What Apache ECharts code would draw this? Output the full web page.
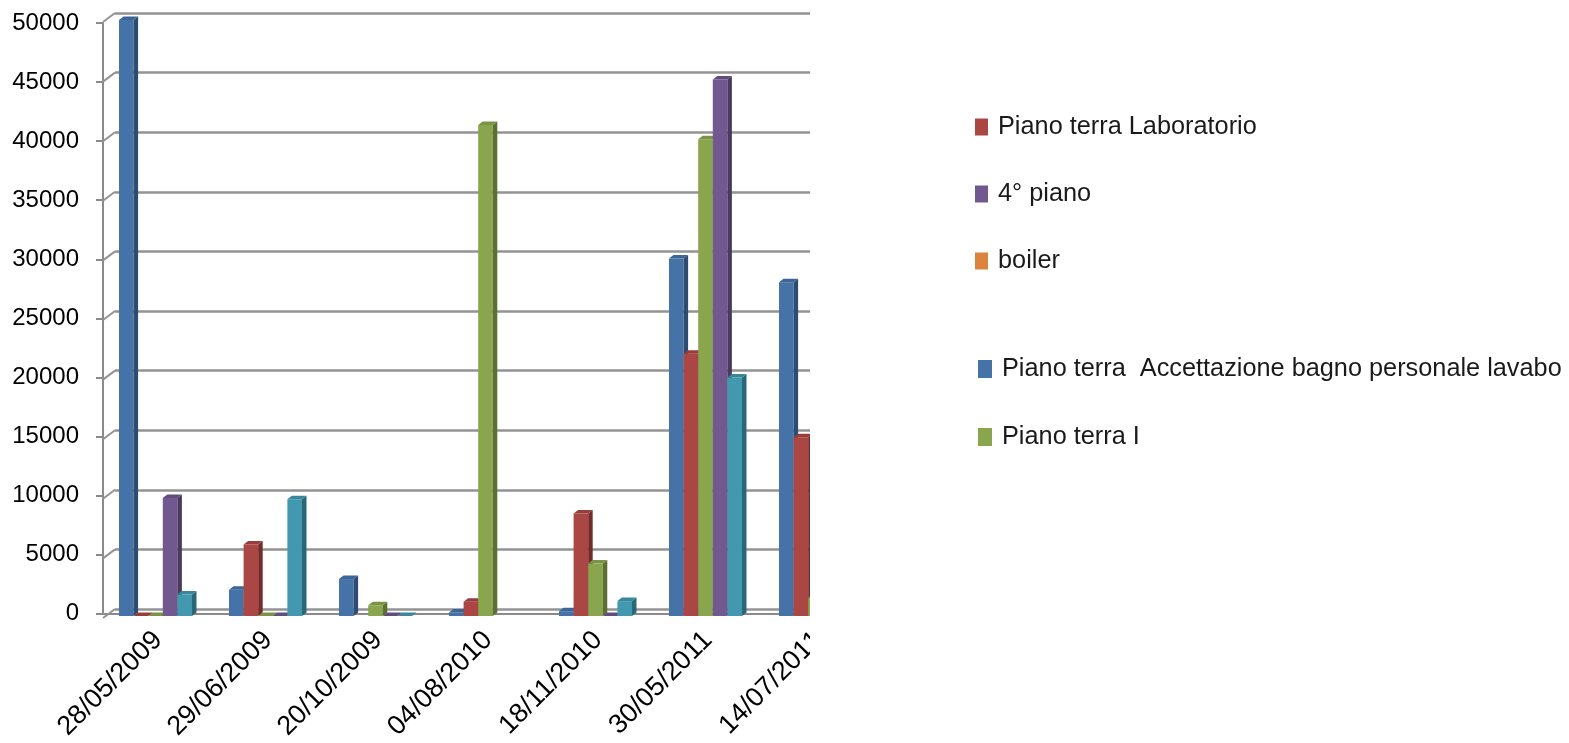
<!DOCTYPE html>
<html>
<head>
<meta charset="utf-8">
<script src="https://cdn.jsdelivr.net/npm/echarts@6/dist/echarts.min.js"></script>
<style>
  html, body { margin: 0; padding: 0; background: #ffffff; }
  #chart { width: 1569px; height: 743px; }
</style>
</head>
<body>
<div id="chart"></div>
<script>
// Sampling dates (category axis)
const categories = ['28/05/2009', '29/06/2009', '20/10/2009', '04/08/2010', '18/11/2010', '30/05/2011', '14/07/2011'];

// Readings per sampling point (null = no sample taken)
const accettazione = [50000, 2200, 3100, 300, 400, 30000, 28000];
const laboratorio  = [0, 6000, null, 1200, 8600, 22000, 15000];
const pianoTerraI  = [0, 0, 900, 41200, 4400, 40000, 1500];
const quartoPiano  = [9900, 0, 0, null, 0, 45000, null];
const serie5       = [1800, 9800, 0, null, 1250, 20000, null];
const boiler       = [];

// Value axis ticks
const yTicks = [0, 5000, 10000, 15000, 20000, 25000, 30000, 35000, 40000, 45000, 50000];
const yMax = 50000;
const yStep = 5000;

const FONT = "'Liberation Sans', Arial, sans-serif";

// Face colours of each column: front, side, top
const palette = {
  blue:   { front: '#4572A7', side: '#2D4C72', top: '#3B6697' },
  red:    { front: '#AA4643', side: '#742C2A', top: '#973D3A' },
  green:  { front: '#89A54E', side: '#5C7131', top: '#7A9444' },
  purple: { front: '#71588F', side: '#4A3A60', top: '#634D7F' },
  teal:   { front: '#4198AF', side: '#2A6777', top: '#38879B' },
  orange: { front: '#DB843D', side: '#A35E26', top: '#C87534' }
};

// Draws a bevelled column: front face, right side and top cap
function columnRenderer(slot, col) {
  return function (params, api) {
    const v = api.value(1);
    if (v === null || v === undefined || isNaN(v)) return null;
    const cat = api.value(0);
    const base = api.coord([cat, 0]);
    const top = api.coord([cat, v]);
    const band = api.size([1, 0])[0];
    const bw = band * 0.1327;
    const x0 = base[0] - band / 2 + band * 0.1455 + slot * bw;
    const x1 = x0 + bw;
    const yb = base[1];
    const yt = top[1];
    const dx = 4.5, dy = 3.5;
    const children = [];
    if (yb - yt > 0.5) {
      children.push({
        type: 'rect',
        shape: { x: x0, y: yt, width: bw, height: yb - yt },
        style: { fill: col.front }
      });
      children.push({
        type: 'polygon',
        shape: { points: [[x1, yt], [x1 + dx, yt - dy], [x1 + dx, yb - dy], [x1, yb]] },
        style: { fill: col.side }
      });
    }
    children.push({
      type: 'polygon',
      shape: { points: [[x0, yt], [x0 + dx, yt - dy], [x1 + dx, yt - dy], [x1, yt]] },
      style: { fill: col.top }
    });
    return { type: 'group', children: children };
  };
}

function columnSeries(name, values, slot, col) {
  return {
    name: name,
    type: 'custom',
    xAxisIndex: 2,
    yAxisIndex: 2,
    itemStyle: { color: col.front },
    encode: { x: 0, y: 1 },
    data: values.map(function (v, i) { return [i, v]; }),
    renderItem: columnRenderer(slot, col),
    z: 5
  };
}

const chart = echarts.init(document.getElementById('chart'), null, { renderer: 'canvas' });

const legendText = { fontFamily: FONT, fontSize: 25.3, color: '#1a1a1a', lineHeight: 26, padding: [0, 0, 0, 5] };

chart.setOption({
  animation: false,
  backgroundColor: '#ffffff',
  grid: [
    // front axes
    { left: 103, top: 23, width: 770, height: 594 },
    // back wall
    { left: 115, top: 13, width: 770, height: 596 },
    // columns
    { left: 103, top: 20, width: 770, height: 596 }
  ],
  xAxis: [
    {
      gridIndex: 0, type: 'category', data: categories, boundaryGap: true,
      axisLine: { lineStyle: { color: '#8a8a8a', width: 2 } },
      axisTick: { length: 8, lineStyle: { color: '#8a8a8a', width: 2 } },
      axisLabel: { rotate: 45, margin: 22, fontFamily: FONT, fontSize: 27, color: '#000000', interval: 0 }
    },
    { gridIndex: 1, type: 'value', min: 0, max: 1, show: false },
    { gridIndex: 2, type: 'category', data: categories, show: false }
  ],
  yAxis: [
    {
      gridIndex: 0, type: 'value', min: 0, max: yMax, interval: yStep,
      axisLine: { show: true, lineStyle: { color: '#8a8a8a', width: 2 } },
      axisTick: { show: true, length: 7, lineStyle: { color: '#8a8a8a', width: 2 } },
      axisLabel: {
        margin: 24, fontFamily: FONT, fontSize: 24, color: '#000000',
        formatter: function (v) { return String(v); }
      },
      splitLine: { show: false }
    },
    {
      gridIndex: 1, type: 'value', min: 0, max: yMax, interval: yStep,
      axisLine: { show: false }, axisTick: { show: false }, axisLabel: { show: false },
      splitLine: { show: true, lineStyle: { color: '#939393', width: 2.5 } }
    },
    { gridIndex: 2, type: 'value', min: 0, max: yMax, interval: yStep, show: false, splitLine: { show: false } }
  ],
  legend: [
    {
      orient: 'vertical', left: 975, top: 114, padding: 0,
      itemWidth: 13, itemHeight: 17, itemGap: 41, icon: 'rect',
      textStyle: legendText,
      data: ['Piano terra Laboratorio', '4° piano', 'boiler']
    },
    {
      orient: 'vertical', left: 978, top: 356, padding: 0,
      itemWidth: 14, itemHeight: 18, itemGap: 42, icon: 'rect',
      textStyle: legendText,
      data: ['Piano terra  Accettazione bagno personale lavabo', 'Piano terra I']
    }
  ],
  graphic: [
    // right edge of the plot area is cut off here
    { type: 'rect', left: 810, top: 0, shape: { width: 150, height: 743 }, style: { fill: '#ffffff' }, z: 100 }
  ],
  series: [
    // sloped left-wall lines joining the front ticks to the back gridlines
    {
      type: 'custom', xAxisIndex: 1, yAxisIndex: 1, silent: true,
      data: yTicks.map(function (t) { return [0, t]; }),
      encode: { x: 0, y: 1 },
      renderItem: function (params, api) {
        const p = api.coord([api.value(0), api.value(1)]);
        return {
          type: 'line',
          shape: { x1: p[0] - 12, y1: p[1] + 9, x2: p[0], y2: p[1] },
          style: { stroke: '#939393', lineWidth: 2 }
        };
      },
      z: 1
    },
    columnSeries('Piano terra  Accettazione bagno personale lavabo', accettazione, 0, palette.blue),
    columnSeries('Piano terra Laboratorio', laboratorio, 1, palette.red),
    columnSeries('Piano terra I', pianoTerraI, 2, palette.green),
    columnSeries('4° piano', quartoPiano, 3, palette.purple),
    columnSeries('Serie 5', serie5, 4, palette.teal),
    columnSeries('boiler', boiler, 5, palette.orange)
  ]
});
</script>
</body>
</html>
